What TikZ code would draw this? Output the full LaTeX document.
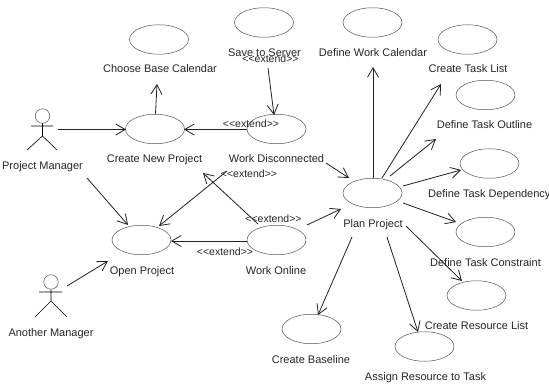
\documentclass[tikz,border=0pt]{standalone}
\usepackage{fontspec}
\setmainfont{Liberation Sans}
\usetikzlibrary{arrows.meta,shapes.geometric}
\definecolor{uc}{HTML}{555555}
\definecolor{ln}{HTML}{222222}
\tikzset{
  usecase/.style={ellipse,draw=uc,line width=0.5pt,fill=white,minimum width=59pt,minimum height=29.5pt,inner sep=0pt},
  lbl/.style={anchor=base,inner sep=0pt,font=\fontsize{11}{13}\selectfont,text=black!85},
  ext/.style={anchor=base,inner sep=0pt,font=\fontsize{10.5}{12}\selectfont,text=black!85},
  conn/.style={draw=ln,line width=0.8pt,-{Straight Barb[length=9.5pt,width=11pt,line width=0.8pt]}},
  actorline/.style={draw=black,line width=0.6pt},
  actorhead/.style={circle,draw=uc,line width=0.5pt,minimum size=14.5pt,inner sep=0pt}
}
\begin{document}
\begin{tikzpicture}[x=1pt,y=-1pt]
\useasboundingbox[fill=white] (0,0) rectangle (549,385);
% use cases
\node[usecase] (cb) at (159,39.5) {};
\node[usecase] (ss) at (264,22.5) {};
\node[usecase] (wc) at (372.5,22.5) {};
\node[usecase] (tl) at (467.5,39.5) {};
\node[usecase] (to) at (485.5,95) {};
\node[usecase] (td) at (489.5,163.5) {};
\node[usecase] (pp) at (372.5,193) {};
\node[usecase] (tc) at (485.5,232) {};
\node[usecase] (rl) at (476.5,295.5) {};
\node[usecase] (ar) at (424.5,346.5) {};
\node[usecase] (bl) at (311.5,329) {};
\node[usecase] (np) at (155,129) {};
\node[usecase] (wd) at (276.5,129) {};
\node[usecase] (op) at (141.5,240) {};
\node[usecase] (wo) at (276.5,240) {};
% actors
\node[actorhead] (pmh) at (42.5,116) {};
\draw[actorline] (pmh.south) -- (42.5,136) -- (27,150) (42.5,136) -- (57,150) (31,126) -- (53,126);
\node[actorhead] (amh) at (51,282) {};
\draw[actorline] (amh.south) -- (51,301) -- (35,317) (51,301) -- (67,317) (39,292) -- (62,292);
% free connector ends
\coordinate (pm1) at (58,129.5);
\coordinate (pm2) at (87,178);
\coordinate (am1) at (67,286);
\coordinate (am2) at (108,261);
\coordinate (op1) at (128,225);
\coordinate (op2) at (159,226);
\coordinate (np1) at (155.5,114);
\coordinate (cb1) at (157,84);
\coordinate (ss1) at (268,68);
\coordinate (wd1) at (274,115);
\coordinate (wo1) at (258,224);
\coordinate (np2) at (203,173);
\coordinate (wd2) at (227,171);
\coordinate (wd3) at (326,163);
\coordinate (pp1) at (349,178);
\coordinate (wo2) at (307,225);
\coordinate (pp2) at (341,209);
\coordinate (pp3) at (373,178);
\coordinate (wc1) at (373,67);
\coordinate (pp4) at (382,178);
\coordinate (tl1) at (441,84);
\coordinate (pp5) at (390,176);
\coordinate (to1) at (436,139);
\coordinate (pp6) at (403,186);
\coordinate (td1) at (461,170);
\coordinate (pp7) at (403,203);
\coordinate (tc1) at (456,222);
\coordinate (pp8) at (406,226);
\coordinate (rl1) at (462,281);
\coordinate (pp9) at (387,237);
\coordinate (ar1) at (418,332);
\coordinate (pp10) at (352,237);
\coordinate (bl1) at (318,315);
\coordinate (wd4) at (247,129.5);
\coordinate (np3) at (184,129.5);
\coordinate (np4) at (126,129.5);
\coordinate (wo3) at (247,241);
\coordinate (op3) at (171,241);
% connectors
\draw[conn] (pm1) -- (np4);
\draw[conn] (pm2) -- (op1);
\draw[conn] (am1) -- (am2);
\draw[conn] (np1) -- (cb1);
\draw[conn] (wd4) -- (np3);
\draw[conn] (ss1) -- (wd1);
\draw[conn] (wo1) -- (np2);
\draw[conn] (wd2) -- (op2);
\draw[conn] (wo3) -- (op3);
\draw[conn] (wd3) -- (pp1);
\draw[conn] (wo2) -- (pp2);
\draw[conn] (pp3) -- (wc1);
\draw[conn] (pp4) -- (tl1);
\draw[conn] (pp5) -- (to1);
\draw[conn] (pp6) -- (td1);
\draw[conn] (pp7) -- (tc1);
\draw[conn] (pp8) -- (rl1);
\draw[conn] (pp9) -- (ar1);
\draw[conn] (pp10) -- (bl1);
% labels
\node[lbl] (l1) at (160,73) {Choose Base Calendar};
\node[lbl] (l2) at (264.5,57) {Save to Server};
\node[lbl] (l3) at (373,57) {Define Work Calendar};
\node[lbl] (l4) at (468,73) {Create Task List};
\node[lbl] (l5) at (484.5,129) {Define Task Outline};
\node[lbl,anchor=base west] (l6) at (428,197) {Define Task Dependency};
\node[lbl] (l7) at (373,227) {Plan Project};
\node[lbl] (l8) at (485.5,266) {Define Task Constraint};
\node[lbl] (l9) at (476.5,329) {Create Resource List};
\node[lbl] (l10) at (425.5,380) {Assign Resource to Task};
\node[lbl] (l11) at (311,363) {Create Baseline};
\node[lbl] (l12) at (154.5,163) {Create New Project};
\node[lbl] (l13) at (276.5,163) {Work Disconnected};
\node[lbl] (l14) at (42.5,169.5) {Project Manager};
\node[lbl] (l15) at (142,274) {Open Project};
\node[lbl] (l16) at (276,274) {Work Online};
\node[lbl] (l17) at (51,336) {Another Manager};
\node[ext] (e1) at (270.5,62.5) {<{}<extend>{}>};
\node[ext] (e2) at (251,128) {<{}<extend>{}>};
\node[ext] (e3) at (249,177.5) {<{}<extend>{}>};
\node[ext] (e4) at (273.5,222.5) {<{}<extend>{}>};
\node[ext] (e5) at (225,255.5) {<{}<extend>{}>};
\end{tikzpicture}
\end{document}
